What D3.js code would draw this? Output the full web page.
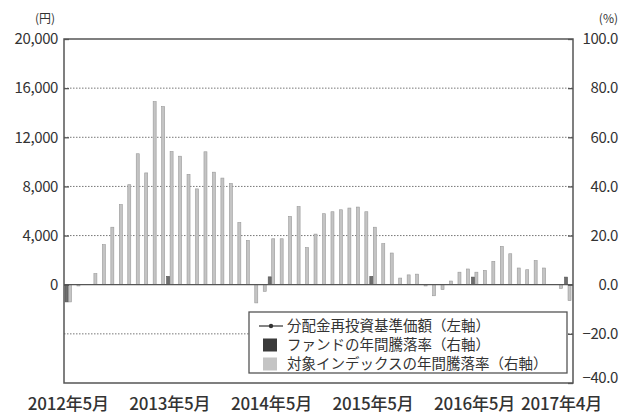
<!DOCTYPE html>
<html>
<head>
<meta charset="utf-8">
<script src="https://cdn.jsdelivr.net/npm/d3@7"></script>
<style>
  body { margin: 0; background: #fff; }
  text { font-family: "Noto Sans CJK JP", sans-serif; fill: #333; }
</style>
</head>
<body>
<svg id="chart" width="620" height="414"></svg>
<script>
// months 2012-05 .. 2017-04
const months = d3.timeMonth.range(new Date(2012, 4, 1), new Date(2017, 4, 1)).map(d3.timeFormat("%Y-%m"))

// 対象インデックスの年間騰落率 (%)
const indexRate = [
  -7, -0.5, 0, 4.5, 16.3, 23.4, 32.6, 40.7, 53.3, 45.5,
  74.5, 72.5, 54.2, 52.3, 44.9, 39, 54.1, 45.8, 43.4, 41.2,
  25.3, 18, -7.4, -2.7, 18.7, 18.7, 27.8, 31.8, 15.1, 20.6,
  28.9, 29.7, 30.5, 31.2, 31.6, 29.7, 23.4, 16.7, 12.9, 2.7,
  4, 4.3, -0.5, -4.5, -2, 1.5, 5.1, 6.4, 5.1, 5.8,
  9.5, 15.6, 12.6, 6.8, 6.1, 9.8, 6.8, 0, -1.5, -6.5
]
// ファンドの年間騰落率 (%)
const fundRate = [
  -7, null, null, null, null, null, null, null, null, null,
  null, null, 3.4, null, null, null, null, null, null, null,
  null, null, null, null, 3.2, null, null, null, null, null,
  null, null, null, null, null, null, 3.4, null, null, null,
  null, null, null, null, null, null, null, null, 3.1, null,
  null, null, null, null, null, null, null, null, null, 3.1
]

const xTickIdx = [0, 12, 24, 36, 48, 59]
const xTickLabels = ["2012年5月", "2013年5月", "2014年5月", "2015年5月", "2016年5月", "2017年4月"]
const leftTicks = [0, 4000, 8000, 12000, 16000, 20000]
const rightTicks = [-40, -20, 0, 20, 40, 60, 80, 100]
const legendLabels = ["分配金再投資基準価額（左軸）", "ファンドの年間騰落率（右軸）", "対象インデックスの年間騰落率（右軸）"]

let margin = { top: 39, right: 573, bottom: 383, left: 64 }

let svg = d3.select("#chart")

let x = d3.scaleBand().domain(months).range([64, 572])
let sub = d3.scalePoint().domain(["fund", "index"]).range([2.5, 6])
let yR = d3.scaleLinear().domain([-40, 100]).range([margin.bottom, margin.top])
let yL = d3.scaleLinear().domain([-8000, 20000]).range([margin.bottom, margin.top])

// grid lines (dotted)
svg.append("g")
  .selectAll("line")
  .data([-20, 20, 40, 60, 80])
  .enter()
  .append("line")
  .attr("x1", margin.left)
  .attr("x2", margin.right)
  .attr("y1", d => yR(d))
  .attr("y2", d => yR(d))
  .attr("stroke", "#777")
  .attr("stroke-width", 1)
  .attr("stroke-dasharray", "1.5,1.5")

// bars
function drawBars(values, key, fill, stroke) {
  svg.append("g")
    .selectAll("rect")
    .data(values.map((v, i) => ({ m: months[i], v: v })).filter(d => d.v !== null && d.v !== 0))
    .enter()
    .append("rect")
    .attr("x", d => x(d.m) + sub(key) - 1.5)
    .attr("width", 3)
    .attr("y", d => yR(Math.max(0, d.v)))
    .attr("height", d => Math.abs(yR(d.v) - yR(0)))
    .attr("fill", fill)
    .attr("stroke", stroke)
    .attr("stroke-width", 0.6)
}
drawBars(indexRate, "index", "#c4c4c4", "#999")
drawBars(fundRate, "fund", "#6e6e6e", "#555")

// zero line
svg.append("line")
  .attr("x1", margin.left).attr("x2", margin.right)
  .attr("y1", yR(0)).attr("y2", yR(0))
  .attr("stroke", "#555").attr("stroke-width", 1.3)

// frame
svg.append("rect")
  .attr("x", margin.left).attr("y", margin.top)
  .attr("width", margin.right - margin.left)
  .attr("height", margin.bottom - margin.top)
  .attr("fill", "none")
  .attr("stroke", "#555")
  .attr("stroke-width", 1.5)

// left axis
let leftAxis = svg.append("g")
  .attr("transform", `translate(${margin.left},0)`)
  .call(d3.axisRight(yL).tickValues(leftTicks).tickSize(5).tickFormat(d3.format(",")))
leftAxis.select(".domain").remove()
leftAxis.selectAll(".tick line").attr("stroke", "#555").attr("stroke-width", 1.3)
leftAxis.selectAll(".tick text")
  .attr("text-anchor", "end")
  .attr("x", -6)
  .attr("fill", "#333")
  .style("font-size", "15px")
  .style("letter-spacing", "-0.4px")

// right axis
let rightAxis = svg.append("g")
  .attr("transform", `translate(${margin.right},0)`)
  .call(d3.axisLeft(yR).tickValues(rightTicks).tickSize(5).tickFormat(d3.format(".1f")))
rightAxis.select(".domain").remove()
rightAxis.selectAll(".tick line").attr("stroke", "#555").attr("stroke-width", 1.3)
rightAxis.selectAll(".tick text")
  .attr("text-anchor", "end")
  .attr("x", 45)
  .attr("fill", "#333")
  .style("font-size", "15px")
  .style("letter-spacing", "-0.4px")
rightAxis.selectAll(".tick")
  .filter(d => d === -40)
  .select("text").attr("dy", "-0.05em")

// units
svg.append("text").attr("x", 45).attr("y", 23).attr("text-anchor", "middle")
  .style("font-size", "12px").text("(円)")
svg.append("text").attr("x", 618).attr("y", 23).attr("text-anchor", "end")
  .style("font-size", "12px").text("(%)")

// x labels
svg.append("g")
  .selectAll("text")
  .data(xTickIdx)
  .enter()
  .append("text")
  .attr("x", (d, i) => x(months[d]) + (i === xTickIdx.length - 1 ? -2 : x.bandwidth() / 2))
  .attr("y", 404)
  .attr("dy", "0.35em")
  .attr("text-anchor", "middle")
  .style("font-size", "17px")
  .style("font-weight", "500")
  .style("letter-spacing", "-0.2px")
  .text((d, i) => xTickLabels[i])

// legend
let legend = svg.append("g")
legend.append("rect")
  .attr("x", 249).attr("y", 312).attr("width", 318).attr("height", 61)
  .attr("fill", "#fff").attr("stroke", "#555").attr("stroke-width", 1.3)

let rowY = [326, 345, 364]
legend.append("line")
  .attr("x1", 259).attr("x2", 283).attr("y1", rowY[0]).attr("y2", rowY[0])
  .attr("stroke", "#333").attr("stroke-width", 1.2)
legend.append("circle")
  .attr("cx", 271).attr("cy", rowY[0]).attr("r", 2.2).attr("fill", "#333")
legend.append("rect")
  .attr("x", 263).attr("y", rowY[1] - 6.5).attr("width", 14).attr("height", 13)
  .attr("fill", "#3a3a3a")
legend.append("rect")
  .attr("x", 263).attr("y", rowY[2] - 6.5).attr("width", 14).attr("height", 13)
  .attr("fill", "#c4c4c4")

legend.selectAll("text.lg")
  .data(legendLabels)
  .enter()
  .append("text")
  .attr("class", "lg")
  .attr("x", 287)
  .attr("y", (d, i) => rowY[i])
  .attr("dy", "0.35em")
  .style("font-size", "14.5px")
  .text(d => d)
</script>
</body>
</html>
